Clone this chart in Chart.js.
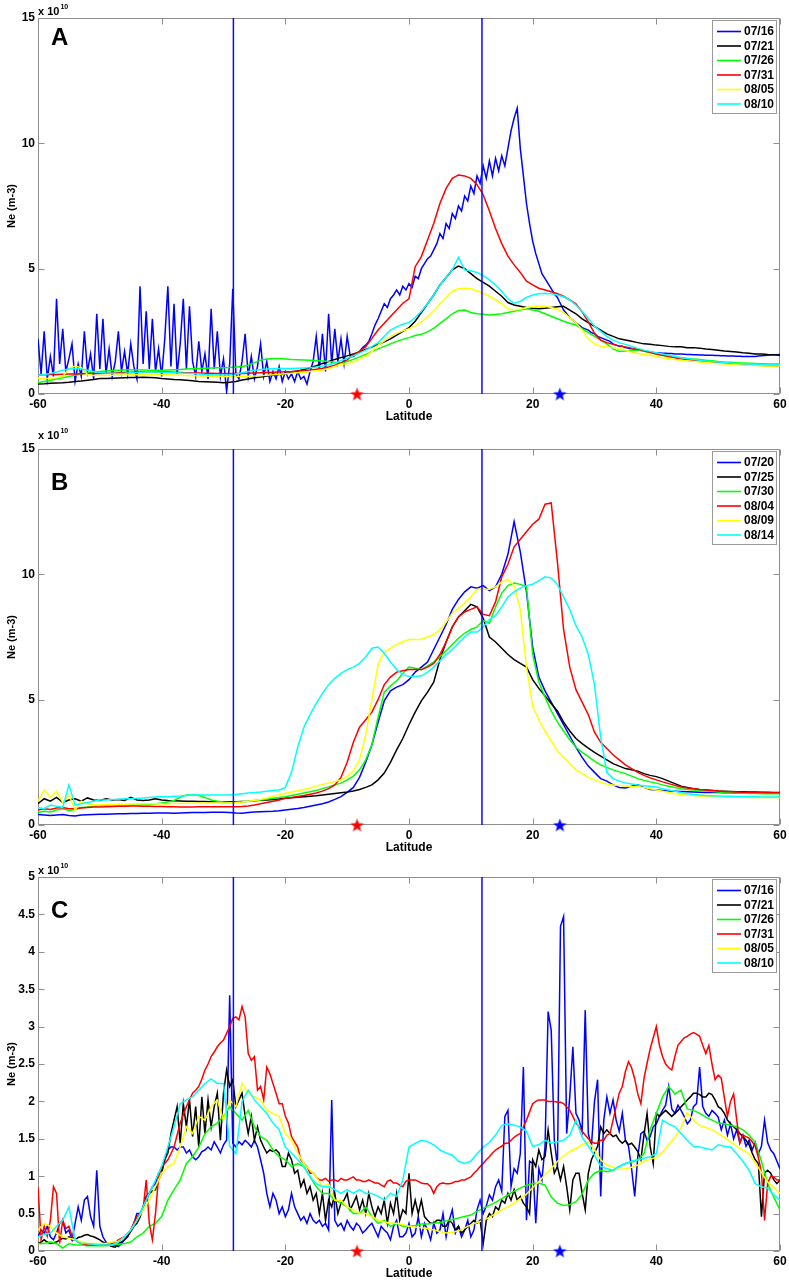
<!DOCTYPE html>
<html><head><meta charset="utf-8">
<script src="https://cdn.jsdelivr.net/npm/chart.js@4/dist/chart.umd.min.js"></script>
<style>
html,body{margin:0;padding:0;background:#fff;width:789px;height:1281px;overflow:hidden}
.p{position:absolute;left:0;width:789px}
</style></head><body>
<div class="p" style="top:0;height:424px"><canvas id="cA"></canvas></div>
<div class="p" style="top:425px;height:430px"><canvas id="cB"></canvas></div>
<div class="p" style="top:859px;height:422px"><canvas id="cC"></canvas></div>
<script>
// ---------------- category grids (latitude, degrees) ----------------
const LAT1 = [
-60,-59,-58,-57,-56,-55,-54,-53,-52,-51,
-50,-49,-48,-47,-46,-45,-44,-43,-42,-41,
-40,-39,-38,-37,-36,-35,-34,-33,-32,-31,
-30,-29,-28,-27,-26,-25,-24,-23,-22,-21,
-20,-19,-18,-17,-16,-15,-14,-13,-12,-11,
-10,-9,-8,-7,-6,-5,-4,-3,-2,-1,
0,1,2,3,4,5,6,7,8,9,
10,11,12,13,14,15,16,17,18,19,
20,21,22,23,24,25,26,27,28,29,
30,31,32,33,34,35,36,37,38,39,
40,41,42,43,44,45,46,47,48,49,
50,51,52,53,54,55,56,57,58,59,60];
const LATH = [
-60,-59.5,-59,-58.5,-58,-57.5,-57,-56.5,-56,-55.5,
-55,-54.5,-54,-53.5,-53,-52.5,-52,-51.5,-51,-50.5,
-50,-49.5,-49,-48.5,-48,-47.5,-47,-46.5,-46,-45.5,
-45,-44.5,-44,-43.5,-43,-42.5,-42,-41.5,-41,-40.5,
-40,-39.5,-39,-38.5,-38,-37.5,-37,-36.5,-36,-35.5,
-35,-34.5,-34,-33.5,-33,-32.5,-32,-31.5,-31,-30.5,
-30,-29.5,-29,-28.5,-28,-27.5,-27,-26.5,-26,-25.5,
-25,-24.5,-24,-23.5,-23,-22.5,-22,-21.5,-21,-20.5,
-20,-19.5,-19,-18.5,-18,-17.5,-17,-16.5,-16,-15.5,
-15,-14.5,-14,-13.5,-13,-12.5,-12,-11.5,-11,-10.5,
-10,-9.5,-9,-8.5,-8,-7.5,-7,-6.5,-6,-5.5,
-5,-4.5,-4,-3.5,-3,-2.5,-2,-1.5,-1,-0.5,
0,0.5,1,1.5,2,2.5,3,3.5,4,4.5,
5,5.5,6,6.5,7,7.5,8,8.5,9,9.5,
10,10.5,11,11.5,12,12.5,13,13.5,14,14.5,
15,15.5,16,16.5,17,17.5,18,18.5,19,19.5,
20,20.5,21,21.5,22,22.5,23,23.5,24,24.5,
25,25.5,26,26.5,27,27.5,28,28.5,29,29.5,
30,30.5,31,31.5,32,32.5,33,33.5,34,34.5,
35,35.5,36,36.5,37,37.5,38,38.5,39,39.5,
40,40.5,41,41.5,42,42.5,43,43.5,44,44.5,
45,45.5,46,46.5,47,47.5,48,48.5,49,49.5,
50,50.5,51,51.5,52,52.5,53,53.5,54,54.5,
55,55.5,56,56.5,57,57.5,58,58.5,59,59.5,60];

// legend labels (dates)
const DATES_A = ['07/16','07/21','07/26','07/31','08/05','08/10'];
const DATES_B = ['07/20','07/25','07/30','08/04','08/09','08/14'];
const DATES_C = ['07/16','07/21','07/26','07/31','08/05','08/10'];

// reference latitudes
const VLINE_LATS = [-28.4, 11.8];
const STAR_LATS = [-8.4, 24.4];

// ---------------- Panel A values (x 1e10 m^-3) ----------------
const A_BLUE = [ // on LATH
2.2,0.8,2.5,0.6,1.5,0.7,3.8,1.2,2.6,0.9,
1.4,2.0,0.5,1.2,0.7,2.5,0.9,1.6,0.6,3.2,
1.0,3.0,0.8,1.8,0.7,1.3,2.5,0.9,1.7,0.8,
2.0,1.1,0.6,4.3,1.2,3.3,1.0,3.0,0.9,1.8,
0.7,2.2,4.3,1.1,3.6,0.8,2.0,3.8,1.0,3.5,
1.3,0.7,2.1,0.9,1.6,0.6,3.4,1.0,2.5,0.7,
1.4,0.1,1.2,4.2,0.8,0.6,1.3,2.4,0.7,1.5,
0.6,1.1,2.0,0.7,1.3,0.5,0.9,0.6,1.1,0.5,
0.9,0.6,0.8,0.5,0.9,0.6,0.7,0.4,0.9,1.3,
2.3,1.0,2.4,0.9,3.2,1.2,2.6,1.3,2.2,1.2,
2.3,1.5,1.5,1.6,1.7,1.85,1.95,2.1,2.4,2.75,
3.0,3.3,3.6,3.45,3.8,3.95,4.15,3.95,4.3,4.15,
4.4,4.25,4.7,4.6,5.0,5.2,5.4,5.5,5.75,6.0,
6.4,6.2,6.8,6.6,7.2,7.0,7.5,7.3,7.9,7.7,
8.3,8.0,8.7,8.4,9.1,8.6,9.3,8.7,9.4,8.9,
9.5,9.1,9.8,10.5,11.0,11.4,9.8,8.7,7.6,6.8,
6.1,5.6,5.2,4.8,4.6,4.4,4.2,4.0,3.85,3.6,
3.35,3.2,3.05,2.95,2.85,2.75,2.65,2.6,2.55,2.45,
2.4,2.3,2.25,2.2,2.15,2.1,2.0,1.95,1.9,1.9,
1.85,1.82,1.8,1.78,1.76,1.75,1.72,1.7,1.68,1.66,
1.65,1.64,1.63,1.63,1.62,1.62,1.6,1.6,1.6,1.59,
1.58,1.58,1.57,1.57,1.56,1.56,1.55,1.55,1.55,1.54,
1.54,1.53,1.53,1.52,1.52,1.52,1.51,1.51,1.5,1.5,
1.5,1.5,1.5,1.52,1.53,1.54,1.55,1.56,1.57,1.57,1.58];
const A_BLACK = [
0.40,0.41,0.43,0.44,0.45,0.47,0.50,0.52,0.55,0.58,
0.62,0.62,0.63,0.64,0.65,0.66,0.66,0.67,0.66,0.65,
0.62,0.60,0.58,0.57,0.55,0.53,0.50,0.49,0.48,0.47,
0.45,0.47,0.50,0.56,0.60,0.65,0.68,0.72,0.75,0.78,
0.82,0.87,0.92,0.98,1.05,1.13,1.22,1.30,1.38,1.45,
1.52,1.60,1.68,1.78,1.88,1.98,2.08,2.20,2.35,2.50,
2.65,2.90,3.25,3.60,3.95,4.35,4.65,4.95,5.10,5.00,
4.80,4.60,4.45,4.30,4.10,3.90,3.65,3.55,3.50,3.45,
3.42,3.40,3.42,3.45,3.48,3.50,3.35,3.20,3.00,2.85,
2.70,2.55,2.40,2.30,2.20,2.15,2.10,2.05,2.00,1.98,
1.95,1.93,1.90,1.88,1.88,1.85,1.85,1.83,1.80,1.78,
1.75,1.72,1.70,1.68,1.65,1.63,1.60,1.60,1.58,1.57,1.55];
const A_GREEN = [
0.45,0.50,0.55,0.60,0.65,0.70,0.75,0.80,0.85,0.88,
0.90,0.92,0.94,0.95,0.96,0.97,0.97,0.96,0.95,0.95,
0.95,0.96,0.97,0.98,1.00,1.01,1.02,1.03,1.04,1.05,
1.05,1.06,1.08,1.10,1.15,1.25,1.35,1.40,1.42,1.42,
1.40,1.38,1.37,1.36,1.35,1.34,1.32,1.30,1.27,1.24,
1.30,1.38,1.48,1.58,1.70,1.80,1.90,2.00,2.10,2.18,
2.25,2.33,2.38,2.49,2.62,2.82,3.00,3.20,3.33,3.35,
3.25,3.20,3.18,3.15,3.17,3.20,3.25,3.30,3.35,3.40,
3.35,3.30,3.20,3.10,3.00,2.90,2.82,2.75,2.60,2.45,
2.30,2.15,2.00,1.80,1.70,1.72,1.75,1.75,1.70,1.65,
1.60,1.55,1.50,1.47,1.45,1.42,1.40,1.38,1.35,1.33,
1.30,1.28,1.27,1.25,1.24,1.23,1.22,1.21,1.20,1.20,1.20];
const A_RED = [
0.76,0.77,0.78,0.78,0.79,0.80,0.80,0.81,0.82,0.82,
0.82,0.83,0.84,0.85,0.86,0.87,0.88,0.89,0.89,0.89,
0.89,0.88,0.87,0.86,0.85,0.84,0.84,0.83,0.83,0.82,
0.82,0.82,0.82,0.82,0.83,0.84,0.85,0.86,0.87,0.88,
0.89,0.90,0.92,0.94,0.96,0.99,1.03,1.08,1.15,1.25,
1.36,1.56,1.69,1.89,2.22,2.55,2.82,3.09,3.35,3.62,
3.80,5.08,5.48,6.14,6.80,7.60,8.20,8.60,8.74,8.70,
8.60,8.35,7.95,7.30,6.60,6.00,5.50,5.15,4.85,4.50,
4.35,4.22,4.15,4.08,4.00,3.90,3.75,3.60,3.28,2.88,
2.42,2.15,2.05,1.98,1.92,1.88,1.83,1.78,1.72,1.66,
1.60,1.55,1.50,1.45,1.40,1.38,1.35,1.32,1.30,1.28,
1.26,1.24,1.22,1.20,1.18,1.16,1.15,1.14,1.13,1.12,1.12];
const A_YELLOW = [
0.62,0.62,0.63,0.65,0.70,1.02,1.12,1.05,0.78,0.74,
0.74,0.75,0.75,0.76,0.76,0.77,0.77,0.78,0.78,0.78,
0.78,0.77,0.76,0.75,0.74,0.73,0.72,0.72,0.71,0.71,
0.70,0.70,0.70,0.70,0.71,0.72,0.73,0.75,0.77,0.79,
0.81,0.83,0.85,0.87,0.90,0.93,0.96,1.02,1.10,1.20,
1.20,1.28,1.38,1.50,1.70,1.95,2.12,2.30,2.42,2.52,
2.60,2.72,2.88,3.08,3.32,3.60,3.85,4.10,4.20,4.22,
4.20,4.12,4.02,3.90,3.75,3.60,3.40,3.35,3.38,3.45,
3.48,3.50,3.50,3.45,3.38,3.25,3.05,2.85,2.55,2.20,
2.00,1.90,1.88,1.85,1.82,1.75,1.68,1.62,1.58,1.55,
1.50,1.45,1.42,1.38,1.35,1.32,1.30,1.28,1.26,1.24,
1.22,1.20,1.18,1.17,1.16,1.15,1.14,1.13,1.12,1.12,1.12];
const A_CYAN = [
0.75,0.78,0.82,0.88,0.95,1.00,1.02,1.00,0.95,0.90,
0.86,0.84,0.83,0.82,0.83,0.85,0.86,0.88,0.89,0.88,
0.87,0.86,0.85,0.84,0.83,0.82,0.80,0.78,0.77,0.76,
0.76,0.77,0.80,0.85,0.90,0.95,0.98,1.00,1.01,1.02,
1.02,1.02,1.03,1.04,1.05,1.08,1.12,1.17,1.24,1.33,
1.42,1.52,1.63,1.75,1.90,2.05,2.30,2.55,2.68,2.78,
2.85,3.05,3.30,3.60,3.95,4.35,4.65,4.95,5.45,4.95,
4.92,4.85,4.72,4.55,4.35,4.10,3.80,3.62,3.70,3.85,
3.95,4.00,4.02,4.00,3.95,3.88,3.75,3.55,3.30,3.00,
2.70,2.50,2.30,2.15,2.05,1.98,1.90,1.82,1.75,1.70,
1.65,1.60,1.55,1.50,1.45,1.42,1.38,1.35,1.32,1.30,
1.28,1.26,1.24,1.22,1.21,1.20,1.19,1.18,1.18,1.17,1.17];

// ---------------- Panel B values ----------------
const B_BLUE = [
0.42,0.40,0.38,0.40,0.42,0.38,0.36,0.40,0.41,0.42,
0.43,0.43,0.44,0.45,0.45,0.46,0.46,0.47,0.47,0.48,
0.48,0.48,0.47,0.48,0.49,0.50,0.50,0.50,0.51,0.51,
0.51,0.50,0.48,0.47,0.50,0.52,0.53,0.54,0.55,0.57,
0.60,0.63,0.66,0.70,0.75,0.80,0.85,0.92,1.02,1.13,
1.30,1.50,1.90,2.50,3.20,4.10,4.95,5.35,5.50,5.60,
5.80,6.10,6.30,6.50,7.00,7.50,8.00,8.60,9.00,9.30,
9.50,9.45,9.55,9.35,9.50,10.00,10.80,12.10,10.90,9.30,
7.10,5.90,5.35,4.90,4.45,4.00,3.55,3.10,2.70,2.35,
2.10,1.85,1.75,1.60,1.50,1.48,1.55,1.60,1.50,1.42,
1.40,1.38,1.36,1.35,1.34,1.33,1.32,1.31,1.30,1.30,
1.30,1.29,1.29,1.28,1.28,1.28,1.27,1.27,1.27,1.27,1.27];
const B_BLACK = [
0.85,1.05,0.95,1.10,0.90,1.00,1.05,0.95,1.08,1.00,
0.98,1.05,1.00,1.02,0.98,1.10,1.00,0.98,1.00,1.05,
1.00,0.98,0.97,0.96,0.95,0.95,0.94,0.94,0.93,0.93,
0.93,0.93,0.93,0.94,0.95,0.97,0.99,1.00,1.02,1.04,
1.07,1.09,1.11,1.13,1.15,1.17,1.20,1.23,1.26,1.29,
1.32,1.36,1.42,1.50,1.60,1.80,2.07,2.50,3.00,3.45,
4.00,4.50,4.95,5.30,5.70,6.60,7.30,7.90,8.30,8.55,
8.80,8.70,8.25,7.50,7.30,7.05,6.80,6.60,6.45,6.30,
5.80,5.45,5.15,4.85,4.55,4.10,3.75,3.45,3.25,3.07,
2.90,2.75,2.60,2.45,2.35,2.25,2.20,2.15,2.05,1.98,
1.93,1.85,1.75,1.65,1.55,1.50,1.45,1.42,1.40,1.38,
1.36,1.35,1.34,1.33,1.33,1.32,1.32,1.31,1.31,1.30,1.30];
const B_GREEN = [
0.50,0.55,0.52,0.60,0.65,0.58,0.62,0.70,0.72,0.75,
0.78,0.80,0.80,0.80,0.80,0.80,0.80,0.82,0.82,0.85,
0.88,0.92,0.98,1.10,1.20,1.20,1.18,1.10,1.00,0.95,
0.92,0.90,0.90,0.92,0.95,0.98,1.00,1.03,1.07,1.10,
1.13,1.18,1.23,1.28,1.33,1.38,1.45,1.52,1.60,1.67,
1.80,1.95,2.20,2.60,3.20,4.30,5.30,5.55,5.75,6.05,
6.30,6.25,6.20,6.35,6.50,6.70,6.95,7.20,7.45,7.65,
7.80,7.90,8.15,8.05,8.70,9.25,9.55,9.65,9.60,9.50,
6.80,5.70,5.10,4.55,4.10,3.75,3.40,3.10,2.90,2.73,
2.55,2.40,2.30,2.20,2.12,2.05,1.95,1.85,1.78,1.72,
1.67,1.60,1.55,1.50,1.45,1.42,1.40,1.38,1.36,1.34,
1.32,1.30,1.29,1.28,1.27,1.26,1.26,1.25,1.25,1.25,1.25];
const B_RED = [
0.60,0.65,0.62,0.68,0.70,0.65,0.66,0.68,0.70,0.72,
0.72,0.73,0.74,0.75,0.75,0.76,0.76,0.75,0.75,0.74,
0.74,0.73,0.73,0.72,0.72,0.72,0.73,0.73,0.73,0.73,
0.73,0.73,0.73,0.74,0.76,0.80,0.85,0.90,0.95,1.00,
1.07,1.10,1.14,1.18,1.23,1.28,1.35,1.45,1.60,1.90,
2.50,3.30,3.90,4.20,4.50,5.00,5.60,5.90,6.10,6.15,
6.20,6.20,6.20,6.30,6.45,6.80,7.30,7.90,8.30,8.50,
8.60,8.70,8.40,8.35,8.90,9.90,10.40,11.10,11.40,11.70,
12.00,12.20,12.80,12.85,10.50,7.80,6.30,5.40,4.90,4.40,
3.70,3.30,3.05,2.80,2.60,2.40,2.25,2.10,1.98,1.88,
1.80,1.72,1.65,1.58,1.52,1.48,1.45,1.42,1.40,1.38,
1.36,1.34,1.33,1.32,1.31,1.30,1.30,1.30,1.29,1.29,1.29];
const B_YELLOW = [
0.95,1.40,1.10,1.35,0.90,1.20,0.60,0.95,0.85,0.80,
0.80,0.82,0.82,0.83,0.83,0.84,0.84,0.85,0.85,0.85,
0.85,0.85,0.86,0.86,0.87,0.87,0.88,0.88,0.88,0.88,
0.88,0.88,0.90,0.92,0.95,0.98,1.02,1.08,1.15,1.20,
1.27,1.32,1.37,1.42,1.48,1.55,1.62,1.68,1.73,1.80,
1.95,2.15,2.60,3.60,5.00,6.40,6.90,7.05,7.20,7.30,
7.40,7.40,7.40,7.50,7.60,7.80,8.10,8.45,8.65,8.85,
9.10,9.40,9.40,9.40,9.50,9.70,9.80,9.55,8.60,6.30,
4.75,4.20,3.75,3.35,2.95,2.70,2.45,2.20,2.05,1.90,
1.80,1.70,1.64,1.60,1.58,1.56,1.54,1.53,1.50,1.45,
1.40,1.35,1.30,1.25,1.22,1.20,1.18,1.16,1.15,1.14,
1.13,1.12,1.12,1.11,1.11,1.10,1.10,1.10,1.10,1.10,1.10];
const B_CYAN = [
0.70,0.65,0.80,0.75,0.70,1.60,0.80,0.85,0.90,0.95,
1.00,1.00,1.02,1.03,1.05,1.05,1.07,1.08,1.10,1.12,
1.13,1.13,1.15,1.16,1.18,1.20,1.20,1.20,1.20,1.20,
1.20,1.20,1.22,1.25,1.28,1.30,1.32,1.35,1.38,1.40,
1.50,2.10,3.10,3.90,4.40,4.85,5.25,5.60,5.85,6.05,
6.20,6.30,6.45,6.70,7.05,7.10,6.85,6.50,6.20,6.00,
5.93,5.92,5.95,6.10,6.30,6.55,6.80,7.00,7.25,7.50,
7.70,7.70,7.90,8.20,8.35,8.70,9.10,9.30,9.45,9.55,
9.60,9.75,9.90,9.85,9.60,9.10,8.60,7.95,7.50,6.80,
5.60,3.50,2.10,1.85,1.75,1.68,1.64,1.60,1.57,1.55,
1.52,1.45,1.40,1.35,1.30,1.25,1.22,1.20,1.18,1.17,
1.16,1.15,1.15,1.14,1.14,1.13,1.13,1.12,1.12,1.12,1.12];

// ---------------- Panel C values ----------------
const C_BLUE = [ // on LATH
0.19,0.28,0.24,0.33,0.19,0.15,0.24,0.37,0.41,0.24,
0.28,0.15,0.37,0.59,0.41,0.68,0.73,0.46,0.33,1.08,
0.33,0.19,0.12,0.08,0.06,0.08,0.06,0.10,0.15,0.19,
0.28,0.37,0.50,0.50,0.59,0.73,0.77,0.86,0.90,1.04,
1.08,1.22,1.35,1.39,1.39,1.35,1.39,1.39,1.31,1.35,
1.26,1.22,1.26,1.33,1.35,1.39,1.35,1.46,1.39,1.31,
1.42,1.48,3.42,1.44,1.39,1.46,1.42,1.48,1.44,1.39,
1.48,1.39,1.22,1.04,0.77,0.59,0.77,0.68,0.50,0.59,
0.46,0.55,0.77,0.59,0.50,0.41,0.46,0.37,0.50,0.41,
0.37,0.41,0.33,0.37,0.28,2.02,0.41,0.33,0.37,0.28,
0.41,0.33,0.28,0.37,0.33,0.24,0.28,0.33,0.37,0.28,
0.19,0.33,0.28,0.24,0.15,0.33,0.41,0.19,0.19,0.24,
0.37,0.19,0.24,0.46,0.19,0.37,0.28,0.15,0.37,0.24,
0.28,0.50,0.19,0.41,0.55,0.24,0.33,0.19,0.28,0.41,
0.19,0.28,0.55,0.68,0.50,0.60,0.75,0.68,0.86,0.95,
0.80,1.80,1.88,0.86,1.10,1.04,1.30,2.46,0.41,1.20,
1.17,0.37,1.10,0.95,1.40,3.20,2.95,1.48,1.13,4.34,
4.47,1.57,2.06,2.73,1.84,1.75,1.60,3.22,1.57,1.40,
2.00,2.29,0.73,1.75,2.06,1.84,2.02,1.75,1.60,1.84,
1.48,1.40,1.10,0.73,1.26,1.57,1.60,1.48,1.53,1.66,
1.70,1.80,1.88,1.95,2.20,1.90,1.84,1.95,1.88,1.80,
1.70,1.75,1.93,1.97,2.46,1.93,1.84,1.80,1.88,1.84,
1.79,1.62,1.75,1.55,1.70,1.50,1.62,1.45,1.55,1.40,
1.48,1.35,1.45,1.30,1.40,1.75,1.45,1.35,1.30,1.20,1.10];
const C_BLACK = [ // on LATH
0.10,0.12,0.15,0.12,0.10,0.11,0.12,0.15,0.17,0.16,
0.19,0.15,0.15,0.18,0.19,0.21,0.22,0.20,0.19,0.17,
0.15,0.12,0.10,0.08,0.06,0.05,0.10,0.12,0.15,0.20,
0.26,0.33,0.37,0.45,0.59,0.68,0.77,0.80,0.82,0.95,
1.04,1.22,1.31,1.57,1.75,1.93,1.44,1.97,1.66,2.02,
1.53,1.93,1.39,2.06,1.57,2.02,1.66,1.93,2.11,1.48,
2.11,2.42,2.20,2.29,1.93,2.02,2.11,1.80,1.57,1.80,
1.48,1.66,1.48,1.39,1.31,1.35,1.33,1.35,1.31,1.13,
1.13,1.31,1.22,1.04,1.08,0.86,0.95,0.77,0.86,0.68,
0.77,0.50,0.77,0.41,0.68,0.59,0.77,0.50,0.64,0.68,
0.77,0.55,0.64,0.73,0.55,0.68,0.50,0.77,0.59,0.46,
0.59,0.50,0.68,0.37,0.64,0.50,0.77,0.41,0.55,0.50,
1.04,0.50,0.68,0.50,0.68,0.46,0.41,0.37,0.37,0.41,
0.41,0.33,0.33,0.41,0.37,0.28,0.33,0.24,0.28,0.33,
0.37,0.41,0.37,0.41,0.10,0.41,0.50,0.46,0.59,0.55,
0.68,0.64,0.77,0.68,0.82,0.68,0.73,0.64,0.59,0.50,
1.22,1.13,1.35,1.22,1.26,1.62,1.31,1.04,1.13,0.95,
1.13,0.86,0.55,0.95,1.04,1.04,0.77,0.55,1.04,1.22,
1.31,1.40,1.66,1.57,1.62,1.57,1.53,1.55,1.48,1.44,
1.48,1.42,1.44,1.39,1.33,1.22,1.55,1.84,1.40,1.17,
1.84,1.80,1.84,1.88,1.84,1.80,1.84,1.88,1.93,1.97,
2.02,2.06,2.11,2.11,2.09,2.06,2.06,2.11,2.09,2.02,
1.93,1.90,1.84,1.75,1.70,1.66,1.62,1.57,1.53,1.48,
1.42,1.31,1.22,1.17,0.46,1.04,1.08,1.04,0.95,0.90,0.95];
const C_GREEN = [
0.10,0.10,0.12,0.10,0.04,0.10,0.08,0.08,0.07,0.07,
0.07,0.07,0.08,0.09,0.10,0.12,0.19,0.24,0.33,0.37,
0.46,0.68,0.82,0.95,1.17,1.26,1.39,1.57,1.66,1.71,
1.80,1.93,1.84,1.75,1.88,1.66,1.53,1.48,1.35,1.26,
1.22,1.13,1.17,1.13,0.99,0.86,0.77,0.77,0.68,0.64,
0.59,0.50,0.50,0.59,0.46,0.37,0.41,0.33,0.37,0.33,
0.33,0.34,0.36,0.36,0.37,0.38,0.40,0.42,0.44,0.46,
0.48,0.53,0.57,0.61,0.65,0.70,0.75,0.80,0.84,0.88,
0.90,0.91,0.88,0.72,0.64,0.61,0.62,0.66,0.76,0.95,
1.04,1.08,1.06,1.08,1.13,1.17,1.19,1.22,1.30,1.62,
1.84,2.06,2.20,2.10,2.15,1.90,1.88,1.84,1.79,1.75,
1.71,1.70,1.68,1.66,1.62,1.55,1.45,1.20,0.90,0.72,0.55];
const C_RED = [ // on LATH
0.86,0.15,0.33,0.20,0.41,0.86,0.77,0.10,0.41,0.30,
0.33,0.20,0.15,0.12,0.10,0.09,0.08,0.08,0.08,0.08,
0.08,0.08,0.08,0.09,0.10,0.12,0.15,0.17,0.19,0.24,
0.28,0.37,0.46,0.50,0.55,0.95,0.37,0.15,0.50,0.99,
1.13,1.17,1.22,1.30,1.39,1.55,1.71,1.82,1.93,2.02,
2.11,2.15,2.20,2.30,2.42,2.50,2.60,2.66,2.73,2.78,
2.82,2.91,3.00,3.11,3.13,3.09,3.27,3.13,2.64,2.55,
2.60,2.15,2.20,2.02,2.46,2.37,2.24,2.11,1.97,1.97,
1.80,1.71,1.53,1.46,1.39,1.22,1.17,1.13,1.04,1.04,
0.99,0.95,0.95,0.97,0.93,0.95,0.95,0.93,0.97,0.95,
0.95,0.97,0.99,0.95,0.95,0.93,0.93,0.95,0.93,0.91,
0.91,0.88,0.86,0.93,0.95,0.91,0.91,0.88,0.86,0.93,
0.95,0.95,0.95,0.93,0.91,0.90,0.90,0.86,0.77,0.86,
0.90,0.91,0.90,0.90,0.91,0.93,0.93,0.95,0.95,0.97,
0.99,1.04,1.08,1.13,1.17,1.22,1.26,1.31,1.35,1.38,
1.40,1.44,1.44,1.48,1.52,1.55,1.57,1.66,1.75,1.86,
1.97,2.00,2.02,2.02,2.02,2.00,2.00,2.00,1.99,1.99,
1.97,1.93,1.88,1.80,1.71,1.66,1.60,1.55,1.50,1.46,
1.44,1.44,1.48,1.48,1.55,1.57,1.75,1.93,2.11,2.20,
2.40,2.53,2.45,2.30,2.10,1.97,2.30,2.51,2.70,2.85,
3.00,2.75,2.60,2.50,2.45,2.42,2.60,2.75,2.80,2.85,
2.87,2.90,2.92,2.90,2.87,2.75,2.64,2.75,2.50,2.29,
2.35,2.31,2.05,1.80,2.00,2.10,1.75,1.44,1.55,1.53,
1.51,1.46,1.40,1.25,1.05,0.41,0.90,1.00,0.99,0.95,0.95];
const C_YELLOW = [
0.28,0.37,0.33,0.24,0.19,0.17,0.15,0.12,0.10,0.10,
0.10,0.10,0.12,0.13,0.19,0.28,0.41,0.55,0.68,0.86,
1.04,1.13,1.17,1.39,1.66,1.57,1.80,1.75,1.93,2.02,
1.75,2.02,1.93,2.24,2.11,2.06,2.02,1.88,1.84,1.80,
1.57,1.48,1.31,1.17,1.08,0.99,0.86,0.90,0.68,0.68,
0.59,0.55,0.50,0.50,0.46,0.41,0.39,0.37,0.37,0.35,
0.33,0.32,0.31,0.30,0.28,0.26,0.24,0.25,0.27,0.31,
0.35,0.38,0.41,0.45,0.50,0.55,0.59,0.64,0.70,0.76,
0.85,0.93,1.02,1.10,1.20,1.27,1.33,1.37,1.42,1.46,
1.35,1.22,1.15,1.12,1.09,1.10,1.12,1.15,1.20,1.23,
1.25,1.32,1.42,1.52,1.65,1.85,1.75,1.68,1.65,1.62,
1.57,1.52,1.46,1.40,1.35,1.30,1.18,1.05,0.92,0.85,0.77];
const C_CYAN = [
0.19,0.22,0.24,0.33,0.41,0.59,0.15,0.10,0.10,0.09,
0.08,0.08,0.08,0.12,0.19,0.28,0.41,0.59,0.77,0.95,
1.13,1.39,1.66,1.97,2.02,2.06,2.15,2.24,2.30,2.24,
2.24,1.40,1.30,2.00,2.15,2.02,1.93,1.84,1.71,1.62,
1.39,1.31,1.22,1.13,0.99,0.90,0.86,0.86,0.82,0.77,
0.82,0.77,0.82,0.77,0.77,0.73,0.68,0.77,0.73,0.95,
1.39,1.44,1.48,1.46,1.42,1.35,1.31,1.28,1.20,1.17,
1.20,1.30,1.39,1.45,1.55,1.68,1.70,1.68,1.66,1.60,
1.40,1.42,1.48,1.44,1.46,1.48,1.55,1.75,1.52,1.40,
1.28,1.13,1.10,1.08,1.13,1.17,1.20,1.22,1.24,1.26,
1.30,1.75,1.70,1.66,1.57,1.48,1.40,1.39,1.37,1.35,
1.42,1.40,1.39,1.30,1.20,1.08,0.90,0.86,0.84,0.75,0.68];

// ---------------- styles ----------------
const COLORS = ['#0000ff','#000000','#00ff00','#ff0000','#ffff00','#00ffff'];
const STAR_COLORS = ['#ff0000','#0000ff'];
const FONT = "'Liberation Sans', Arial, Helvetica, sans-serif";
Chart.defaults.font.family = FONT;
Chart.defaults.color = '#000';

function starImg(color) {
  const c = document.createElement('canvas');
  c.width = 17; c.height = 17;
  const g = c.getContext('2d');
  g.fillStyle = color;
  g.beginPath();
  for (let k = 0; k < 10; k++) {
    const r = (k % 2 === 0) ? 7.2 : 2.9;
    const ang = -Math.PI / 2 + k * Math.PI / 5;
    const px = 8.5 + r * Math.cos(ang), py = 9.1 + r * Math.sin(ang);
    if (k === 0) g.moveTo(px, py); else g.lineTo(px, py);
  }
  g.closePath(); g.fill();
  return c;
}

const decorPlugin = {
  id: 'decor',
  beforeDatasetsDraw(chart) {
    const {ctx, chartArea: a, scales: {x, y}} = chart;
    ctx.save();
    ctx.strokeStyle = '#8e8e8e';
    ctx.lineWidth = 1;
    const L = Math.round(a.left) + 0.5, R = Math.round(a.right) - 0.5;
    const T = Math.round(a.top) + 0.5, B = Math.round(a.bottom) - 0.5;
    ctx.beginPath();
    ctx.rect(L, T, R - L, B - T);
    x.ticks.forEach(t => {
      const px = Math.round(x.getPixelForValue(t.value)) + 0.5;
      ctx.moveTo(px, B); ctx.lineTo(px, B - 6);
      ctx.moveTo(px, T); ctx.lineTo(px, T + 6);
    });
    y.ticks.forEach(t => {
      const py = Math.round(y.getPixelForValue(t.value)) + 0.5;
      ctx.moveTo(L, py); ctx.lineTo(L + 6, py);
      ctx.moveTo(R, py); ctx.lineTo(R - 6, py);
    });
    ctx.stroke();
    ctx.restore();
  },
  afterDraw(chart, args, opts) {
    const {ctx, chartArea: a} = chart;
    ctx.save();
    // exponent label
    ctx.fillStyle = '#000';
    ctx.textBaseline = 'alphabetic';
    ctx.textAlign = 'left';
    ctx.font = 'bold 11px ' + FONT;
    const ey = a.top + opts.expDy;
    ctx.fillText('x 10', a.left, ey);
    const w = ctx.measureText('x 10').width;
    ctx.font = 'bold 7px ' + FONT;
    ctx.fillText('10', a.left + w + 1, ey - 6);
    // panel letter
    ctx.font = 'bold 24px ' + FONT;
    ctx.fillText(opts.letter, a.left + 13, a.top + opts.letterDy);
    // legend
    const items = chart.data.datasets.filter(d => d._leg);
    const bw = 64, bh = 93;
    const bx = Math.round(a.right) - 68, by = Math.round(a.top) + 2;
    ctx.fillStyle = '#fff';
    ctx.fillRect(bx, by, bw, bh);
    ctx.strokeStyle = '#9a9a9a';
    ctx.lineWidth = 1;
    ctx.strokeRect(bx + 0.5, by + 0.5, bw, bh);
    ctx.font = 'bold 12px ' + FONT;
    ctx.textBaseline = 'middle';
    items.forEach((d, i) => {
      const cy = by + 11.5 + i * 14.5;
      ctx.strokeStyle = d.borderColor;
      ctx.lineWidth = 1.6;
      ctx.beginPath(); ctx.moveTo(bx + 5, cy); ctx.lineTo(bx + 29, cy); ctx.stroke();
      ctx.fillStyle = '#000';
      ctx.fillText(d.label, bx + 32, cy + 0.5);
    });
    ctx.restore();
  }
};

function makeChart(id, dates, series, ymax, ystep, letter, letterDy, expDy, padTop) {
  const datasets = series.map((s, i) => ({
    label: dates[i], _leg: true,
    data: s[0].map((lat, k) => ({x: lat, y: s[1][k]})),
    borderColor: COLORS[i], backgroundColor: COLORS[i],
    borderWidth: 1.5, pointRadius: 0, fill: false, tension: 0,
    order: 10 - i
  }));
  VLINE_LATS.forEach(v => datasets.push({
    label: '', data: [{x: v, y: 0}, {x: v, y: ymax}],
    borderColor: '#0a0aff', borderWidth: 1.5, pointRadius: 0, fill: false, order: 1
  }));
  datasets.push({
    label: '', data: STAR_LATS.map(v => ({x: v, y: 0})), showLine: false,
    pointStyle: STAR_LATS.map((_, i) => starImg(STAR_COLORS[i])),
    pointRadius: 8, clip: false, order: 0
  });
  return new Chart(document.getElementById(id), {
    type: 'line',
    data: {datasets},
    options: {
      responsive: true, maintainAspectRatio: false, animation: false, events: [],
      layout: {padding: {top: padTop, left: 0, right: 8, bottom: 0}},
      plugins: {legend: {display: false}, tooltip: {enabled: false},
        decor: {letter, letterDy, expDy}},
      scales: {
        x: {
          type: 'linear', min: -60, max: 60,
          ticks: {stepSize: 20, padding: 3, maxRotation: 0, autoSkip: false, color: '#000',
                  font: {size: 12, weight: 'bold'}},
          grid: {display: false, drawTicks: false}, border: {display: false},
          title: {display: true, text: 'Latitude', color: '#000', font: {size: 12, weight: 'bold'},
                  padding: {top: 0, bottom: 0}},
          afterFit(s) { s.height = 30; s.paddingLeft = 0; s.paddingRight = 0; }
        },
        y: {
          type: 'linear', min: 0, max: ymax,
          ticks: {stepSize: ystep, padding: 3, color: '#000', autoSkip: false,
                  font: {size: 12, weight: 'bold'},
                  callback: v => String(Math.round(v * 10) / 10)},
          grid: {display: false, drawTicks: false}, border: {display: false},
          title: {display: true, text: 'Ne (m-3)', color: '#000', font: {size: 11, weight: 'bold'},
                  padding: {top: 5, bottom: 0}},
          afterFit(s) { s.width = 38; s.paddingTop = 0; s.paddingBottom = 0; }
        }
      }
    },
    plugins: [decorPlugin]
  });
}

makeChart('cA', DATES_A, [[LATH, A_BLUE], [LAT1, A_BLACK], [LAT1, A_GREEN], [LAT1, A_RED], [LAT1, A_YELLOW], [LAT1, A_CYAN]],
  15, 5, 'A', 27, -3, 18);
makeChart('cB', DATES_B, [[LAT1, B_BLUE], [LAT1, B_BLACK], [LAT1, B_GREEN], [LAT1, B_RED], [LAT1, B_YELLOW], [LAT1, B_CYAN]],
  15, 5, 'B', 41, -10, 24);
makeChart('cC', DATES_C, [[LATH, C_BLUE], [LATH, C_BLACK], [LAT1, C_GREEN], [LATH, C_RED], [LAT1, C_YELLOW], [LAT1, C_CYAN]],
  5, 0.5, 'C', 41, -3, 18);
</script>
</body></html>
